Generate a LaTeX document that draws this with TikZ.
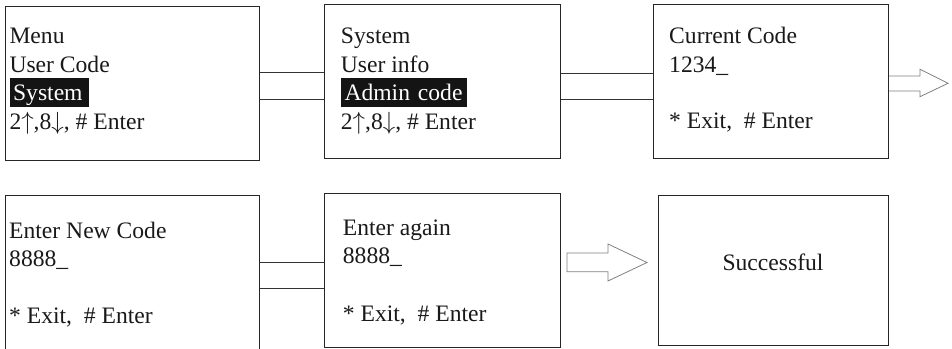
\documentclass[tikz,border=0pt]{standalone}
\usepackage{fontspec}
\setmainfont{Liberation Serif}
\usetikzlibrary{calc}
\newcommand{\upar}{\ensuremath{\uparrow}}
\newcommand{\dnar}{\ensuremath{\downarrow}}
\begin{document}
\begin{tikzpicture}[x=1pt,y=-1pt,
  screen/.style={draw=black!85, line width=1pt, anchor=north west, inner sep=0pt},
  txt/.style={anchor=base west, inner sep=0pt, text=black!90, text height=17pt, text depth=5pt, font=\fontsize{23.6}{28}\selectfont},
  hl/.style={txt, fill=black!92, text=white, anchor=base west, inner xsep=3.6pt, inner ysep=0pt,
     text height=22.7pt, text depth=6.2pt, text width=#1, align=left},
  link/.style={draw=black!80, line width=1pt},
  hollow/.style={draw=black!50, line width=0.8pt, fill=white, line join=miter}
]
\useasboundingbox (0,0) rectangle (952,348);
\clip (0,0) rectangle (952,348);
% screens
\node[screen, minimum width=253.5pt, minimum height=154pt] (b1) at (5,6) {};
\node[screen, minimum width=236pt, minimum height=154pt] (b2) at (324,4) {};
\node[screen, minimum width=235pt, minimum height=153.7pt] (b3) at (653,4.3) {};
\node[screen, minimum width=253.5pt, minimum height=165pt] (b4) at (5,195) {};
\node[screen, minimum width=236pt, minimum height=153.4pt] (b5) at (324,193.3) {};
\node[screen, minimum width=230pt, minimum height=150pt] (b6) at (658,195) {};
% texts box 1
\node[txt] (t11) at (9.3,43) {Menu};
\node[txt] (t12) at (9.3,72) {User Code};
\node[hl=72.1pt] (t13) at (9.3,100.7) {System};
\node[txt] (t14) at (9.3,129) {2\upar,8\dnar, \# Enter};
% box 2
\node[txt] (t21) at (340.7,43) {System};
\node[txt] (t22) at (340.7,72) {User info};
\node[hl=118.8pt] (t23) at (340.7,100.7) {Admin code};
\node[txt] (t24) at (340.7,129) {2\upar,8\dnar, \# Enter};
% box 3
\node[txt] (t31) at (669,43) {Current Code};
\node[txt] (t32) at (669,72) {1234\_};
\node[txt] (t33) at (669,128) {* Exit,\ \ \# Enter};
% box 4
\node[txt] (t41) at (9,238) {Enter New Code};
\node[txt] (t42) at (9,266.7) {8888\_};
\node[txt] (t43) at (9,323) {* Exit,\ \ \# Enter};
% box 5
\node[txt] (t51) at (342.7,235) {Enter again};
\node[txt] (t52) at (342.7,263) {8888\_};
\node[txt] (t53) at (342.7,321.7) {* Exit,\ \ \# Enter};
% box 6
\node[txt, anchor=base] (t61) at (773,270) {Successful};
% double-line links
\coordinate (c1a) at (0,72.7); \coordinate (c1b) at (0,99.3);
\coordinate (c2a) at (0,73);   \coordinate (c2b) at (0,99);
\coordinate (c4a) at (0,262.7); \coordinate (c4b) at (0,288.3);
\draw[link] (b1.east |- c1a) -- (b2.west |- c1a);
\draw[link] (b1.east |- c1b) -- (b2.west |- c1b);
\draw[link] (b2.east |- c2a) -- (b3.west |- c2a);
\draw[link] (b2.east |- c2b) -- (b3.west |- c2b);
\draw[link] (b4.east |- c4a) -- (b5.west |- c4a);
\draw[link] (b4.east |- c4b) -- (b5.west |- c4b);
% hollow arrows
\draw[hollow] (b3.east |- 0,76) -- (920,76) -- (920,69.3) -- (948,83.3) -- (920,96.7) -- (920,91) -- (b3.east |- 0,91);
\coordinate (a2) at ($(b5.east |- 0,253)+(6,0)$);
\draw[hollow] (a2) -- (608,253) -- (608,244) -- (647,262.5) -- (608,281) -- (608,271.7) -- (a2 |- 0,271.7) -- cycle;
\end{tikzpicture}
\end{document}
